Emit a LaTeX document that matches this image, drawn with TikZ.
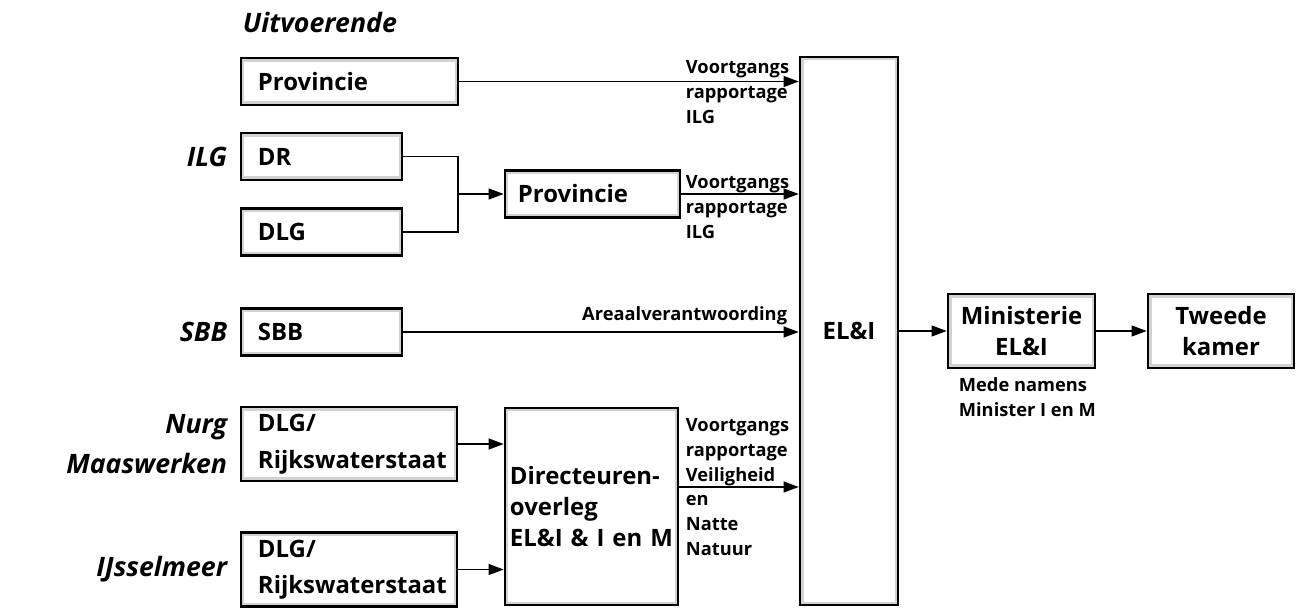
\documentclass[tikz,border=0pt]{standalone}
\usepackage{fontspec}
\setmainfont{Open Sans}
\usetikzlibrary{arrows.meta}

\tikzset{
  box/.style={draw, line width=1.7pt, fill=white, inner sep=0pt,
    font=\bfseries\fontsize{17}{22}\selectfont,
    path picture={\draw[gray!35, line width=5pt] (path picture bounding box.south west) rectangle (path picture bounding box.north east);}},
  lbox/.style={box, align=left, text width=#1, inner xsep=0.425cm},
  cbox/.style={box, align=center, minimum width=3.675cm, minimum height=1.85cm},
  side/.style={font=\bfseries\itshape\fontsize{19}{28}\selectfont, inner sep=0pt},
  note/.style={font=\bfseries\fontsize{13}{17.5}\selectfont, align=left, inner sep=0pt, anchor=north west},
}

\begin{document}
\begin{tikzpicture}[x=0.025cm, y=-0.025cm, >={Triangle[length=0.38cm,width=0.27cm]}, line width=1.3pt]
\useasboundingbox (0,0) rectangle (1302,610);

% boxes
\node[lbox=4.575cm, minimum height=1.175cm] (prov1) at (349.5,81.5) {Provincie};
\node[lbox=3.175cm, minimum height=1.175cm] (dr) at (321.5,156.5) {DR};
\node[lbox=3.175cm, minimum height=1.175cm] (dlg) at (321.5,232) {DLG};
\node[lbox=3.725cm, inner xsep=0.325cm, minimum height=1.175cm] (prov2) at (592.5,194) {Provincie};
\node[lbox=3.175cm, minimum height=1.175cm] (sbb) at (321.5,332) {SBB};
\node[lbox=4.55cm, minimum height=1.85cm] (rws1) at (349,444) {DLG/\\[4pt]Rijkswaterstaat};
\node[lbox=4.55cm, minimum height=1.85cm] (rws2) at (349,569.5) {DLG/\\[4pt]Rijkswaterstaat};
\node[lbox=4.075cm, inner xsep=0.125cm, minimum height=4.925cm] (dir) at (591.5,506.5) {Directeuren-\\overleg\\EL\&I \& I en M};
\node[box, minimum width=2.45cm, minimum height=13.7cm] (eli) at (849,331) {EL\&I};
\node[cbox] (min) at (1021.5,331) {Ministerie\\EL\&I};
\node[cbox, minimum width=3.65cm] (tk) at (1221,331) {Tweede\\kamer};

% labels left
\node[side, anchor=west] (uitv) at (242,22) {Uitvoerende};
\node[side, anchor=east] (ilg) at (228,156.5) {ILG};
\node[side, anchor=east] (sbbl) at (228,332) {SBB};
\node[side, anchor=east, align=right] (nurg) at (228,444) {Nurg\\Maaswerken};
\node[side, anchor=east] (ijs) at (228,569.5) {IJsselmeer};

% labels on the arrows
\node[note] (vr1) at (685,60) {Voortgangs\\rapportage\\ILG};
\node[note] (vr2) at (685,175) {Voortgangs\\rapportage\\ILG};
\node[note] (vr3) at (685,418) {Voortgangs\\rapportage\\Veiligheid\\en\\Natte\\Natuur};
\node[note, anchor=south east] (areaal) at (788,326) {Areaalverantwoording};
\node[note] (mede) at (958,377) {Mede namens\\Minister I en M};

% arrows
\coordinate (join) at (458,194);
\draw (dr.east) -| (join);
\draw (dlg.east) -| (join);
\draw[->] (join) -- (prov2.west);
\draw[->] (prov1.east) -- (prov1.east -| eli.west);
\draw[->] (prov2.east) -- (prov2.east -| eli.west);
\draw[->] (sbb.east) -- (sbb.east -| eli.west);
\draw[->] (rws1.east) -- (rws1.east -| dir.west);
\draw[->] (rws2.east) -- (rws2.east -| dir.west);
\draw[->] ([yshift=0.4875cm]dir.east) -- ([yshift=0.4875cm]dir.east -| eli.west);
\draw[->] (eli.east) -- (min.west);
\draw[->] (min.east) -- (tk.west);
\end{tikzpicture}
\end{document}
